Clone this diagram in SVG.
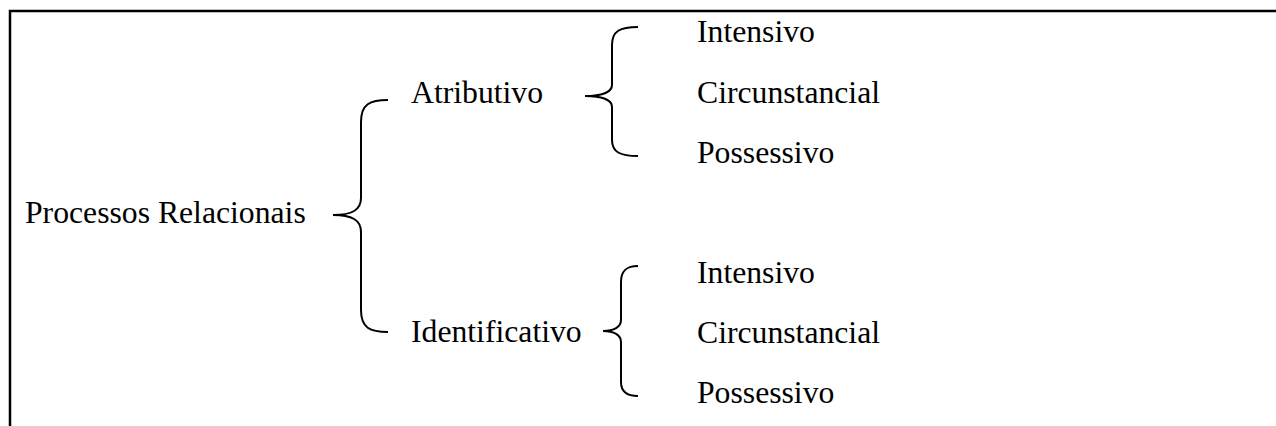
<svg xmlns="http://www.w3.org/2000/svg" width="1276" height="426" viewBox="0 0 1276 426">
<style>
.t{font-family:"Liberation Serif","Times New Roman",serif;font-size:31.7px;fill:#000}
.b{fill:none;stroke:#000;stroke-width:2}
.f{fill:none;stroke:#000;stroke-width:2.5}
</style>
<rect width="1276" height="426" fill="#fff"/>
<g id="frame">
<path class="f" d="M10 426 V11 H1276"/>
</g>
<g id="connectors">
<path class="b" d="M388 100 C370 100 361 104 361 122 L361 198 C361 210 352 215 333 215 C352 215 361 220 361 232 L361 310 C361 328 370 332 388 332"/>
<path class="b" d="M638 27 C620 27 612 31 612 45 L612 85 C612 92 602 96 585 96 C602 96 612 100 612 107 L612 140 C612 152 620 156 638 156"/>
<path class="b" d="M638 266 C627 266 621 270 621 282 L621 320 C621 327 614 331 603 331 C614 331 621 335 621 342 L621 382 C621 392 627 396 638 396"/>
</g>
<g id="root"><text class="t" x="25" y="223">Processos Relacionais</text></g>
<g id="atributivo"><text class="t" x="411" y="103">Atributivo</text></g>
<g id="identificativo"><text class="t" x="411" y="342">Identificativo</text></g>
<g id="a-intensivo"><text class="t" x="697" y="42">Intensivo</text></g>
<g id="a-circunstancial"><text class="t" x="697" y="103">Circunstancial</text></g>
<g id="a-possessivo"><text class="t" x="697" y="163">Possessivo</text></g>
<g id="i-intensivo"><text class="t" x="697" y="283">Intensivo</text></g>
<g id="i-circunstancial"><text class="t" x="697" y="343">Circunstancial</text></g>
<g id="i-possessivo"><text class="t" x="697" y="403">Possessivo</text></g>
</svg>
